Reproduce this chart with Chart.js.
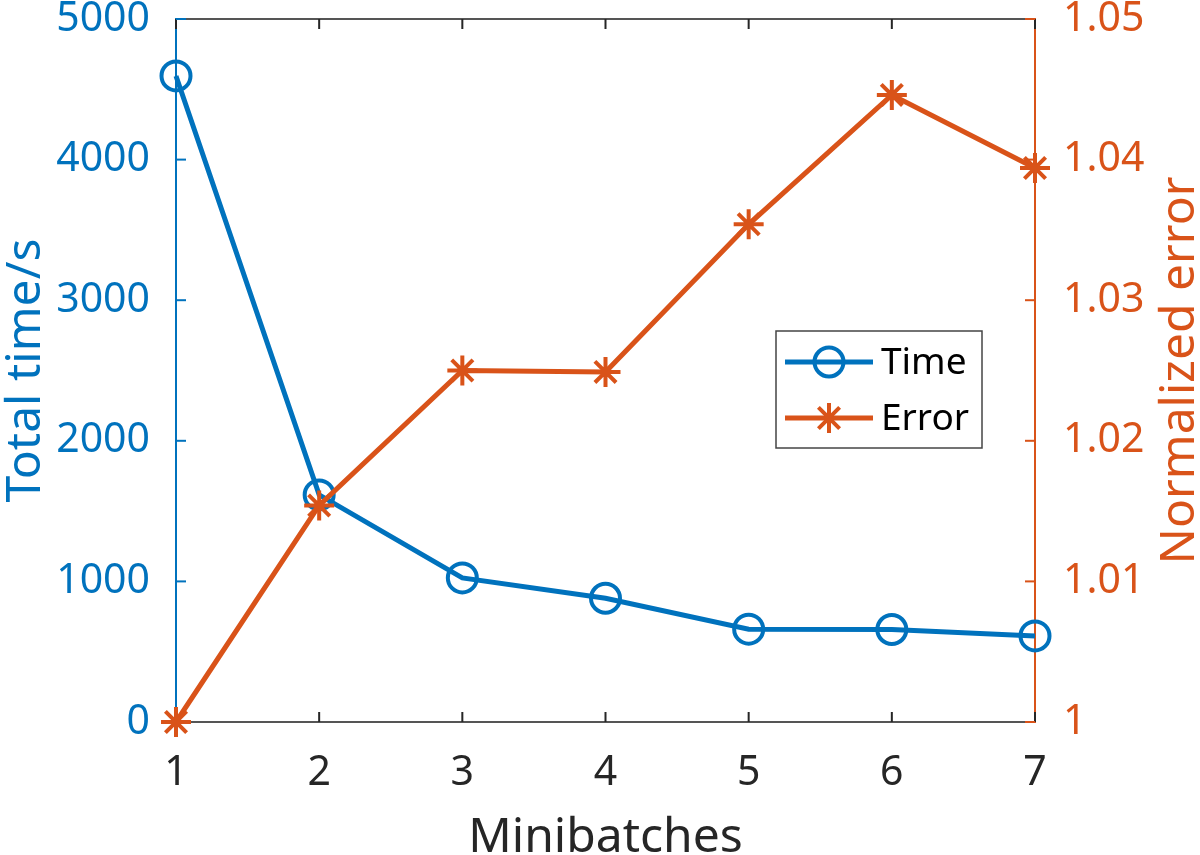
<!DOCTYPE html>
<html>
<head>
<meta charset="utf-8">
<script src="https://cdn.jsdelivr.net/npm/chart.js@4.4.0/dist/chart.umd.min.js"></script>
<style>
  html, body { margin: 0; padding: 0; background: #fff; }
  #wrap { width: 1200px; height: 855px; position: relative; }
</style>
</head>
<body>
<div id="wrap"><canvas id="mainChart"></canvas></div>
<script>
// data
const minibatches = [1, 2, 3, 4, 5, 6, 7];
const timeValues = [4595, 1615, 1025, 880, 660, 658, 612];
const errorValues = [1.0000, 1.0154, 1.0250, 1.0249, 1.0354, 1.0446, 1.0394];
const leftTicks = [0, 1000, 2000, 3000, 4000, 5000];
const rightTicks = [1, 1.01, 1.02, 1.03, 1.04, 1.05];

const blue = '#0072BD';
const orange = '#D95319';
const gray = '#262626';
const font = 'Noto Sans';

// MATLAB style: inward ticks, top box line, axis titles, fixed legend box
const matlabAxes = {
    id: 'matlabAxes',
    beforeDatasetsDraw(chart) {
        const c = chart.ctx;
        const a = chart.chartArea;
        const len = 10;
        c.save();
        c.lineWidth = 2;
        // top box line
        c.strokeStyle = '#555';
        c.beginPath();
        c.moveTo(a.left, a.top);
        c.lineTo(a.right, a.top);
        c.stroke();
        // x ticks bottom + top
        const xs = chart.scales.x;
        c.strokeStyle = gray;
        xs.ticks.forEach(t => {
            const px = xs.getPixelForValue(t.value);
            c.beginPath();
            c.moveTo(px, a.bottom); c.lineTo(px, a.bottom - len);
            c.moveTo(px, a.top); c.lineTo(px, a.top + len);
            c.stroke();
        });
        const yl = chart.scales.y;
        c.strokeStyle = blue;
        yl.ticks.forEach(t => {
            const py = yl.getPixelForValue(t.value);
            c.beginPath();
            c.moveTo(a.left, py); c.lineTo(a.left + len, py);
            c.stroke();
        });
        const yr = chart.scales.y1;
        c.strokeStyle = orange;
        yr.ticks.forEach(t => {
            const py = yr.getPixelForValue(t.value);
            c.beginPath();
            c.moveTo(a.right, py); c.lineTo(a.right - len, py);
            c.stroke();
        });

        // axis titles
        const midY = (a.top + a.bottom) / 2;
        c.font = '48px "' + font + '"';
        c.textBaseline = 'alphabetic';
        c.textAlign = 'center';
        c.fillStyle = gray;
        c.fillText('Minibatches', (a.left + a.right) / 2, 852);
        c.save();
        c.translate(40, midY);
        c.rotate(-Math.PI / 2);
        c.fillStyle = blue;
        c.fillText('Total time/s', 0, 0);
        c.restore();
        c.save();
        c.translate(1194, midY);
        c.rotate(-Math.PI / 2);
        c.fillStyle = orange;
        c.fillText('Normalized error', 0, 0);
        c.restore();
        c.restore();
    },
    afterDraw(chart) {
        const c = chart.ctx;
        const box = { x: 776, y: 331, w: 206, h: 117 };
        c.save();
        c.fillStyle = '#fff';
        c.fillRect(box.x, box.y, box.w, box.h);
        c.strokeStyle = '#444';
        c.lineWidth = 1.5;
        c.strokeRect(box.x, box.y, box.w, box.h);
        const rows = [
            { label: 'Time', color: blue, marker: 'circle', y: 362 },
            { label: 'Error', color: orange, marker: 'star', y: 418 }
        ];
        rows.forEach(r => {
            c.strokeStyle = r.color;
            c.lineWidth = 5;
            c.beginPath();
            c.moveTo(785, r.y); c.lineTo(873, r.y);
            c.stroke();
            const mx = 829;
            c.lineWidth = 4;
            c.beginPath();
            if (r.marker === 'circle') {
                c.arc(mx, r.y, 14.5, 0, Math.PI * 2);
            } else {
                for (let k = 0; k < 4; k++) {
                    const ang = k * Math.PI / 4;
                    c.moveTo(mx - 15 * Math.cos(ang), r.y - 15 * Math.sin(ang));
                    c.lineTo(mx + 15 * Math.cos(ang), r.y + 15 * Math.sin(ang));
                }
            }
            c.stroke();
            c.fillStyle = '#000';
            c.font = '37px "' + font + '"';
            c.textBaseline = 'middle';
            c.fillText(r.label, 881, r.y + 1);
        });
        c.restore();
    }
};

new Chart(document.getElementById('mainChart'), {
    type: 'line',
    data: {
        datasets: [{
            label: 'Error',
            data: minibatches.map((m, i) => ({ x: m, y: errorValues[i] })),
            yAxisID: 'y1',
            borderColor: orange,
            borderWidth: 5,
            pointStyle: 'star',
            pointRadius: 15,
            pointBorderWidth: 4,
            pointBorderColor: orange,
            pointBackgroundColor: orange,
            tension: 0,
            clip: false,
            order: 0
        }, {
            label: 'Time',
            data: minibatches.map((m, i) => ({ x: m, y: timeValues[i] })),
            yAxisID: 'y',
            borderColor: blue,
            borderWidth: 5,
            pointStyle: 'circle',
            pointRadius: 14.5,
            pointBorderWidth: 4,
            pointBorderColor: blue,
            pointBackgroundColor: 'rgba(0,0,0,0)',
            tension: 0,
            clip: false,
            order: 1
        }]
    },
    options: {
        responsive: true,
        maintainAspectRatio: false,
        animation: false,
        layout: { padding: { top: 15, left: 0, right: 0, bottom: 0 } },
        plugins: {
            legend: { display: false },
            tooltip: { enabled: false }
        },
        scales: {
            x: {
                type: 'linear',
                min: 1,
                max: 7,
                grid: { display: false },
                border: { display: true, color: '#555', width: 2 },
                ticks: {
                    stepSize: 1,
                    color: gray,
                    padding: 19,
                    font: { family: font, size: 41 }
                },
                afterFit(s) { s.height = 133; s.paddingLeft = 0; s.paddingRight = 0; }
            },
            y: {
                position: 'left',
                min: 0,
                max: 5000,
                grid: { display: false },
                border: { display: true, color: blue, width: 2 },
                afterBuildTicks(s) { s.ticks = leftTicks.map(v => ({ value: v })); },
                ticks: {
                    color: blue,
                    padding: 18,
                    font: { family: font, size: 41 },
                    callback: v => String(v)
                },
                afterFit(s) { s.width = 176; s.paddingTop = 0; s.paddingBottom = 0; }
            },
            y1: {
                position: 'right',
                min: 1,
                max: 1.05,
                grid: { display: false },
                border: { display: true, color: orange, width: 2 },
                afterBuildTicks(s) { s.ticks = rightTicks.map(v => ({ value: v })); },
                ticks: {
                    color: orange,
                    padding: 20,
                    font: { family: font, size: 41 },
                    callback: v => String(Number(v.toFixed(2)))
                },
                afterFit(s) { s.width = 165; s.paddingTop = 0; s.paddingBottom = 0; }
            }
        }
    },
    plugins: [matlabAxes]
});
</script>
</body>
</html>
